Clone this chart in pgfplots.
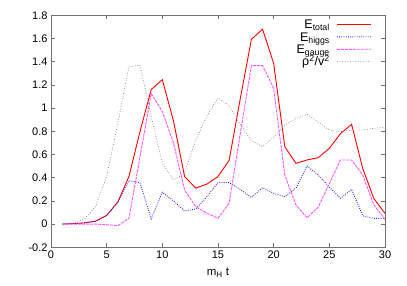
\documentclass[border=0pt]{standalone}
\usepackage{fontspec}
\setmainfont{Liberation Sans}
\usepackage{pgfplots}
\pgfplotsset{compat=1.18}
\definecolor{cgauge}{RGB}{255,85,255}
\definecolor{chiggs}{RGB}{34,34,255}
\definecolor{crho}{RGB}{136,136,136}
\definecolor{caxis}{RGB}{112,112,112}
\begin{document}
\begin{tikzpicture}[x=1pt,y=1pt]
\useasboundingbox (0,0) rectangle (407,285);
\begin{scope}[every node/.style={anchor=base east, inner sep=0pt, font=\fontsize{12.5}{13}\selectfont}]
\node at (330,256.5) {E\textsubscript{total}};
\node at (330,243.8) {E\textsubscript{higgs}};
\node at (330,231.5) {E\textsubscript{gauge}};
\node at (330,219.1) {ρ\textsuperscript{2}/v\textsuperscript{2}};
\end{scope}
\begin{axis}[
  at={(51pt,37.7pt)}, anchor=south west,
  scale only axis, width=334pt, height=232pt,
  xmin=0, xmax=30, ymin=-0.2, ymax=1.8,
  xtick={0,5,...,30}, ytick={-0.2,0,0.2,0.4,0.6,0.8,1,1.2,1.4,1.6,1.8},
  tick align=inside, major tick length=4pt,
  axis line style={caxis, line width=0.8pt},
  tick style={caxis, line width=0.6pt},
  every tick label/.style={font=\fontsize{11}{12}\selectfont},
  /pgf/number format/assume math mode=true,
  yticklabel style={/pgf/number format/fixed},
  xlabel={m\textsubscript{H} t},
  xlabel style={font=\fontsize{11.5}{12}\selectfont, at={(axis description cs:0.5,0)}, anchor=north, yshift=-17pt},
]
\addplot[red, line width=0.9pt] coordinates {
(1,0) (2,0.005) (3,0.01) (4,0.025) (5,0.075) (6,0.19) (7,0.41) (8,0.80) (9,1.16) (10,1.245)
(11,0.89) (12,0.41) (13,0.31) (14,0.345) (15,0.41) (16,0.55) (17,1.08) (18,1.593) (19,1.68) (20,1.386)
(21,0.667) (22,0.524) (23,0.553) (24,0.573) (25,0.653) (26,0.78) (27,0.86) (28,0.48) (29,0.22) (30,0.093)};
\addplot[chiggs, line width=0.9pt, dash pattern=on 0.8pt off 1.4pt] coordinates {
(1,0) (2,0.005) (3,0.01) (4,0.025) (5,0.075) (6,0.19) (7,0.374) (8,0.357) (9,0.044) (10,0.274)
(11,0.2) (12,0.113) (13,0.13) (14,0.236) (15,0.357) (16,0.357) (17,0.3) (18,0.228) (19,0.314) (20,0.265)
(21,0.236) (22,0.31) (23,0.50) (24,0.423) (25,0.32) (26,0.222) (27,0.3) (28,0.072) (29,0.05) (30,0.05)};
\addplot[cgauge, line width=0.9pt, dash pattern=on 3pt off 1pt] coordinates {
(1,0) (2,0) (3,0) (4,0) (5,-0.005) (6,-0.014) (7,0.05) (8,0.58) (9,1.127) (10,0.97)
(11,0.70) (12,0.294) (13,0.15) (14,0.093) (15,0.05) (16,0.18) (17,0.78) (18,1.366) (19,1.366) (20,1.17)
(21,0.423) (22,0.165) (23,0.055) (24,0.145) (25,0.35) (26,0.553) (27,0.553) (28,0.423) (29,0.165) (30,0.04)};
\addplot[crho, line width=0.7pt, dash pattern=on 0.8pt off 1.8pt] coordinates {
(1,0) (2,0.01) (3,0.044) (4,0.15) (5,0.41) (6,0.87) (7,1.357) (8,1.37) (9,0.93) (10,0.524)
(11,0.38) (12,0.44) (13,0.725) (14,0.93) (15,1.09) (16,1.02) (17,0.86) (18,0.72) (19,0.667) (20,0.75)
(21,0.854) (22,0.91) (23,0.946) (24,0.88) (25,0.81) (26,0.797) (27,0.81) (28,0.81) (29,0.826) (30,0.834)};
\end{axis}
% legend samples (gnuplot style: sample to the right of the text)
\draw[red, line width=0.9pt] (337,260.7) -- (371,260.7);
\draw[chiggs, line width=0.9pt, dash pattern=on 0.8pt off 1.4pt] (337,248.2) -- (354,248.2) -- (371,248.3);
\draw[cgauge, line width=0.9pt, dash pattern=on 3pt off 1pt] (337,235.7) -- (354,235.7) -- (371,235.8);
\draw[crho, line width=0.7pt, dash pattern=on 0.8pt off 1.8pt] (337,223.3) -- (354,223.3) -- (371,223.4);
\end{tikzpicture}
\end{document}
